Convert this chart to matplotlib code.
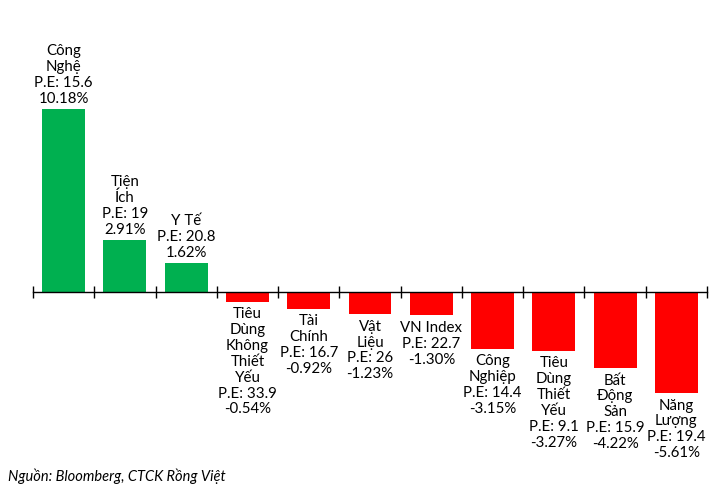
import matplotlib
matplotlib.use("Agg")
import matplotlib.pyplot as plt
import numpy as np

plt.rcParams["font.family"] = ["Lato", "Noto Sans", "DejaVu Sans"]

# Sector names (line breaks as drawn), P/E ratios and % change
sectors = [
    "Công\nNghệ", "Tiện\nÍch", "Y Tế", "Tiêu\nDùng\nKhông\nThiết\nYếu",
    "Tài\nChính", "Vật\nLiệu", "VN Index", "Công\nNghiệp",
    "Tiêu\nDùng\nThiết\nYếu", "Bất\nĐộng\nSản", "Năng\nLượng",
]
pe_labels = ["15.6", "19", "20.8", "33.9", "16.7", "26", "22.7", "14.4", "9.1", "15.9", "19.4"]
changes = [10.18, 2.91, 1.62, -0.54, -0.92, -1.23, -1.30, -3.15, -3.27, -4.22, -5.61]

GREEN = "#00b050"
RED = "#ff0000"

fig = plt.figure(figsize=(7.25, 4.94), dpi=100)
ax = fig.add_axes([33 / 725, 24 / 494, 674 / 725, 450 / 494])

x = np.arange(len(changes))
colors = [GREEN if v >= 0 else RED for v in changes]
ax.bar(x, changes, 0.7, color=colors, zorder=2)

for xi, name, pe, v in zip(x, sectors, pe_labels, changes):
    label = f"{name}\nP.E: {pe}\n{v:.2f}%"
    if v >= 0:
        ax.annotate(label, (xi, v), xytext=(0, 2), textcoords="offset points",
                    ha="center", va="bottom", fontsize=10.8, linespacing=1.17)
    else:
        ax.annotate(label, (xi, v), xytext=(0, -4), textcoords="offset points",
                    ha="center", va="top", fontsize=10.8, linespacing=1.17)

ax.set_xlim(-0.5, len(changes) - 0.5)
ax.set_ylim(-(470 - 292) / 18, (292 - 20) / 18)

for side in ("top", "right", "left"):
    ax.spines[side].set_visible(False)
ax.spines["bottom"].set_position(("data", 0))
ax.spines["bottom"].set_linewidth(1.0)
ax.spines["bottom"].set_zorder(3)
ax.set_xticks(np.arange(-0.5, len(changes), 1.0))
ax.set_xticklabels([])
ax.tick_params(axis="x", direction="inout", length=9, width=1.0)
ax.set_yticks([])

fig.text(8 / 725, 1 - 476 / 494, "Nguồn: Bloomberg, CTCK Rồng Việt",
         fontsize=10.5, style="italic", va="center", ha="left")

fig.savefig("out.png", dpi=100)
